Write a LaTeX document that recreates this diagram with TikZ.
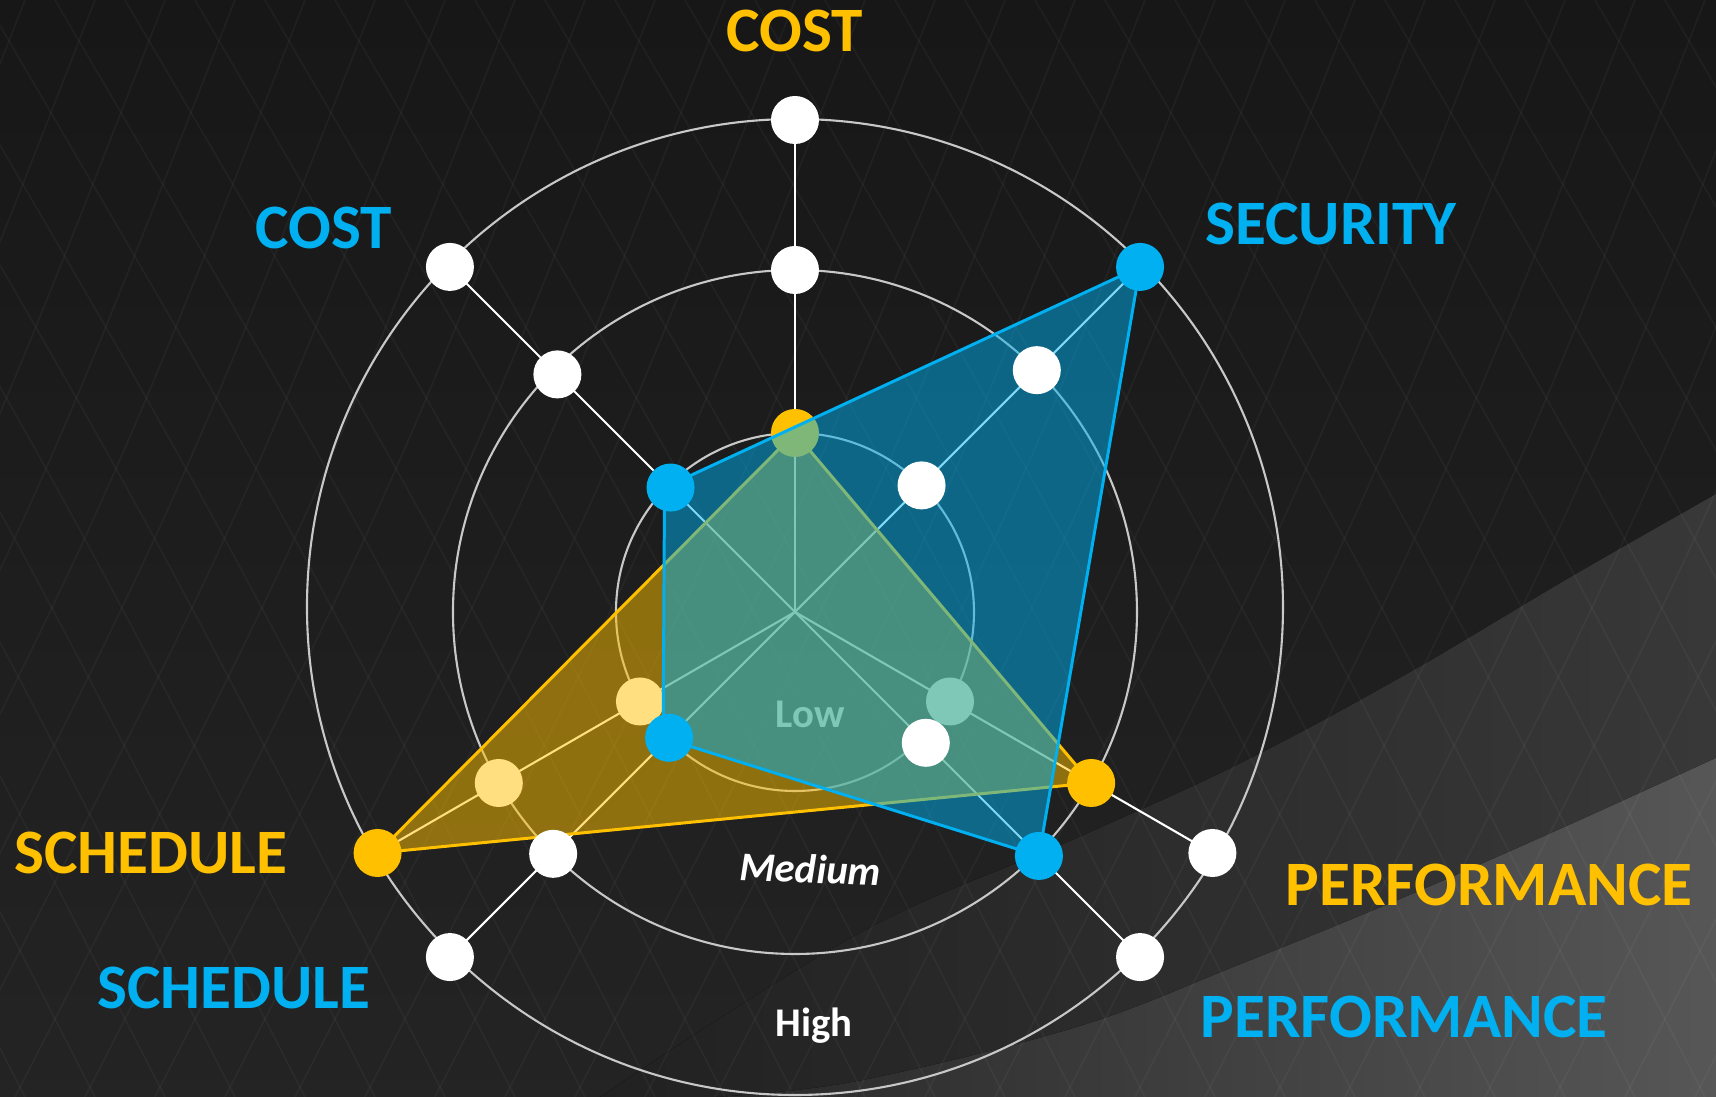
\documentclass[tikz,border=0pt]{standalone}
\usepackage{fontspec}
\setmainfont{Carlito}
\definecolor{gold}{HTML}{FFC000}
\definecolor{skyblue}{HTML}{00B0F0}
\definecolor{ring}{HTML}{C8C8C8}
\definecolor{bgdark}{HTML}{1F1F1F}

\begin{document}
\begin{tikzpicture}[
  dot/.style={circle, fill=white, inner sep=0pt, minimum size=4.8mm},
  golddot/.style={dot, fill=gold},
  bluedot/.style={dot, fill=skyblue},
  spoke/.style={white, line width=0.6pt},
  mesh/.style={white, opacity=0.035, line width=0.5pt},
  bigtext/.style={font=\fontsize{18}{20}\selectfont\bfseries},
  level/.style={font=\fontsize{11.6}{13}\selectfont\bfseries, white, anchor=base}
]

% background and swoosh
\useasboundingbox (-7.95,-4.85) rectangle (9.21,6.12);
\fill[top color=black!91, bottom color=black!86] (-7.95,-4.85) rectangle (9.21,6.12);
\fill[left color=black!87, right color=black!78] plot [smooth, tension=0.6] coordinates {(9.21,1.18) (7.74,0.34) (6.10,-0.63) (4.46,-1.51) (2.82,-2.26) (0.63,-3.22) (-1.95,-4.85)} -- (9.21,-4.85) -- cycle;
\fill[left color=black!84, right color=black!66] plot [smooth, tension=0.6] coordinates {(9.21,-1.46) (7.74,-2.13) (6.10,-2.85) (4.46,-3.52) (2.82,-4.15) (0.63,-4.69) (-0.79,-4.85)} -- (9.21,-4.85) -- cycle;
\begin{scope}
\clip (-7.95,-4.85) rectangle (9.21,6.12);
\foreach \x in {-12,-11,...,22} {
  \draw[mesh] (\x*0.7,6.12) .. controls (\x*0.7-2,1) .. (\x*0.7-5,-4.85);
  \draw[mesh] (\x*0.7-6,6.12) .. controls (\x*0.7-3,1) .. (\x*0.7,-4.85);
}
\end{scope}

% rings
\draw[ring, line width=0.6pt] (0,0) circle (1.79);
\draw[ring, line width=0.6pt] (0,0) circle (3.42);
\draw[ring, line width=0.6pt] (0,0.05) circle (4.88);

\coordinate (C) at (0,0);
% gold axes
\coordinate (cost1) at (90:1.79);  \coordinate (cost2) at (90:3.42);  \coordinate (cost3) at (90:4.92);
\coordinate (sched1) at (210:1.79); \coordinate (sched2) at (210:3.42); \coordinate (sched3) at (210:4.82);
\coordinate (perf1) at (-30:1.79);  \coordinate (perf2) at (-30:3.42);  \coordinate (perf3) at (-30:4.82);
% blue axes
\coordinate (bcost1) at (135:1.76);  \coordinate (bcost2) at (135:3.36);  \coordinate (bcost3) at (135:4.88);
\coordinate (sec1) at (45:1.79);     \coordinate (sec2) at (45:3.42);     \coordinate (sec3) at (45:4.88);
\coordinate (bsched1) at (225:1.78); \coordinate (bsched2) at (225:3.42); \coordinate (bsched3) at (225:4.88);
\coordinate (bperf1) at (-45:1.85);  \coordinate (bperf2) at (-45:3.45);  \coordinate (bperf3) at (-45:4.88);

\draw[spoke] (C) -- (cost3);
\draw[spoke] (C) -- (sched3);
\draw[spoke] (C) -- (perf3);
\draw[spoke] (C) -- (bcost3);
\draw[spoke] (C) -- (sec3);
\draw[spoke] (C) -- (bsched3);
\draw[spoke] (C) -- (bperf3);

% gold chart
\node[dot] (d-cost2) at (cost2) {};
\node[dot] (d-cost3) at (cost3) {};
\node[dot] (d-sched1) at (sched1) {};
\node[dot] (d-sched2) at (sched2) {};
\node[dot] (d-perf1) at (perf1) {};
\node[dot] (d-perf3) at (perf3) {};
\node[level] (low) at (0.15,-1.16) {Low};

\filldraw[gold, line width=0.85pt, fill opacity=0.5] (cost1) -- (perf2) -- (sched3) -- cycle;
\node[golddot] (d-cost1) at (cost1) {};
\node[golddot] (d-perf2) at (perf2) {};
\node[golddot] (d-sched3) at (sched3) {};

% blue chart
\filldraw[skyblue, line width=0.85pt, fill opacity=0.5] ([xshift=-0.6mm]bcost1) -- (sec3) -- (bperf2) -- ([xshift=-0.6mm]bsched1) -- cycle;
\node[dot] (d-bcost2) at (bcost2) {};
\node[dot] (d-bcost3) at (bcost3) {};
\node[dot] (d-sec1) at (sec1) {};
\node[dot] (d-sec2) at (sec2) {};
\node[dot] (d-bsched2) at (bsched2) {};
\node[dot] (d-bsched3) at (bsched3) {};
\node[dot] (d-bperf1) at (bperf1) {};
\node[dot] (d-bperf3) at (bperf3) {};
\node[bluedot] (d-bcost1) at (bcost1) {};
\node[bluedot] (d-sec3) at (sec3) {};
\node[bluedot] (d-bsched1) at (bsched1) {};
\node[bluedot] (d-bperf2) at (bperf2) {};

% labels
\node[bigtext, gold] (l-cost) at (0,5.81) {COST};
\node[bigtext, skyblue] (l-bcost) at (-4.71,3.84) {COST};
\node[bigtext, skyblue] (l-sec) at (5.36,3.88) {SECURITY};
\node[bigtext, gold] (l-sched) at (-6.44,-2.41) {SCHEDULE};
\node[bigtext, skyblue] (l-bsched) at (-5.61,-3.76) {SCHEDULE};
\node[bigtext, gold] (l-perf) at (6.94,-2.73) {PERFORMANCE};
\node[bigtext, skyblue] (l-bperf) at (6.09,-4.05) {PERFORMANCE};
\node[level, rotate=-2, font=\fontsize{11.6}{13}\selectfont\bfseries\itshape] (medium) at (0.15,-2.71) {Medium};
\node[level] (high) at (0.19,-4.25) {High};
\end{tikzpicture}
\end{document}
